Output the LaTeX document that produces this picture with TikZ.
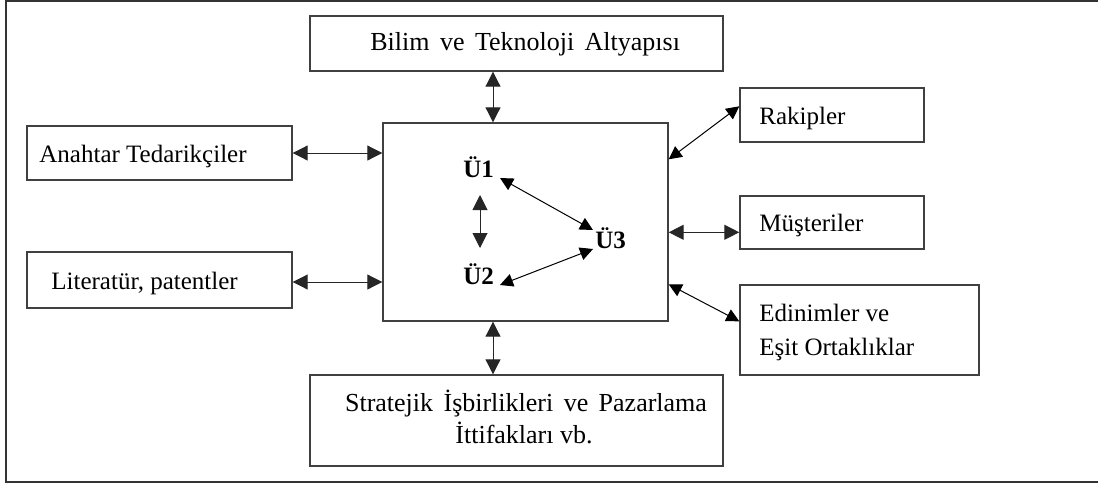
\documentclass[tikz,border=0pt]{standalone}
\usepackage{fontspec}
\setmainfont{Liberation Serif}
\usetikzlibrary{arrows.meta,calc}

\tikzset{
  boxframe/.style={draw=black!75, line width=0.7pt, inner sep=0pt},
  boxtext/.style={inner sep=0pt, font=\fontsize{12.5}{17}\selectfont},
  widetext/.style={inner sep=0pt, font=\fontsize{13}{17}\selectfont},
  unit/.style={inner sep=0pt, anchor=base west, font=\fontsize{12.5}{17}\selectfont\bfseries},
  link/.style={line width=0.5pt, black!85, {Triangle[length=7.5pt,width=7.5pt]}-{Triangle[length=7.5pt,width=7.5pt]}},
  thinlink/.style={line width=0.5pt, black, {Triangle[length=6.5pt,width=6.5pt]}-{Triangle[length=6.5pt,width=6.5pt]}}
}

\begin{document}
\begin{tikzpicture}[x=0.5pt,y=-0.5pt]
  \useasboundingbox (0,0) rectangle (1098,483);

  % outer frame, open on the right
  \draw[black!80, line width=1pt] (1098,1) -- (6,1) -- (6,482) -- (1098,482);

  % boxes
  \node[boxframe, minimum width=206.5pt, minimum height=27.5pt] (bilim) at (516.5,43.5) {};
  \node[boxframe, minimum width=142.5pt, minimum height=99pt] (core) at (525.5,222) {};
  \node[boxframe, minimum width=132.5pt, minimum height=27pt] (anahtar) at (159.5,153) {};
  \node[boxframe, minimum width=132.5pt, minimum height=28pt] (lit) at (159.5,280) {};
  \node[boxframe, minimum width=206.5pt, minimum height=45.5pt] (strat) at (516.5,420.5) {};
  \node[boxframe, minimum width=92pt, minimum height=27pt] (rak) at (832,115) {};
  \node[boxframe, minimum width=92pt, minimum height=26.5pt] (mus) at (832,222.5) {};
  \node[boxframe, minimum width=119.5pt, minimum height=45pt] (edin) at (859.5,330) {};

  % box texts (the two long lines are set a little looser)
  \node[widetext, anchor=base west] (tbilim) at (370,50) {\spaceskip=5.2pt\relax Bilim ve Teknoloji Altyapısı};
  \node[boxtext, anchor=base west] (tanahtar) at (39,162) {Anahtar Tedarikçiler};
  \node[boxtext, anchor=base west] (tlit) at (51,289) {Literatür, patentler};
  \node[boxtext, anchor=base west] (trak) at (759,124) {Rakipler};
  \node[boxtext, anchor=base west] (tmus) at (759,231) {Müşteriler};
  \node[boxtext, anchor=base west] (tedin1) at (759,321) {Edinimler ve};
  \node[boxtext, anchor=base west] (tedin2) at (759,355) {Eşit Ortaklıklar};
  \node[widetext, anchor=base] (tstrat1) at (526,411) {\spaceskip=5.2pt\relax Stratejik İşbirlikleri ve Pazarlama};
  \node[widetext, anchor=base] (tstrat2) at (524,443) {İttifakları vb.};

  % units inside the core box
  \node[unit] (u1) at (463,177) {Ü1};
  \node[unit] (u2) at (463,284) {Ü2};
  \node[unit] (u3) at (595,248) {Ü3};

  % vertical guide for the top and bottom links
  \coordinate (vx) at (493,0);

  % links between boxes
  \draw[link] (bilim.south -| vx) -- (core.north -| vx);
  \draw[link] (strat.north -| vx) -- (core.south -| vx);
  \draw[link] (anahtar.east) -- (anahtar.east -| core.west);
  \draw[link] ($(lit.east)+(0,2)$) -- ($(lit.east -| core.west)+(0,2)$);
  \draw[link] ($(mus.north west)+(0,37)$) -- ($(mus.north west -| core.east)+(0,37)$);
  \draw[thinlink] ($(rak.north west)+(0,19)$) -- ($(core.north east)+(0,37)$);
  \draw[thinlink] ($(edin.north west)+(0,37)$) -- ($(core.north east)+(0,162)$);

  % links between units
  \draw[link] ($(u1.base west)+(17,18)$) -- ($(u2.base west)+(17,-36)$);
  \draw[thinlink] ($(u1.base west)+(37,1)$) -- ($(u3.base west)+(-2,-18)$);
  \draw[thinlink] ($(u2.base west)+(37,1)$) -- ($(u3.base west)+(-2,1)$);
\end{tikzpicture}
\end{document}
